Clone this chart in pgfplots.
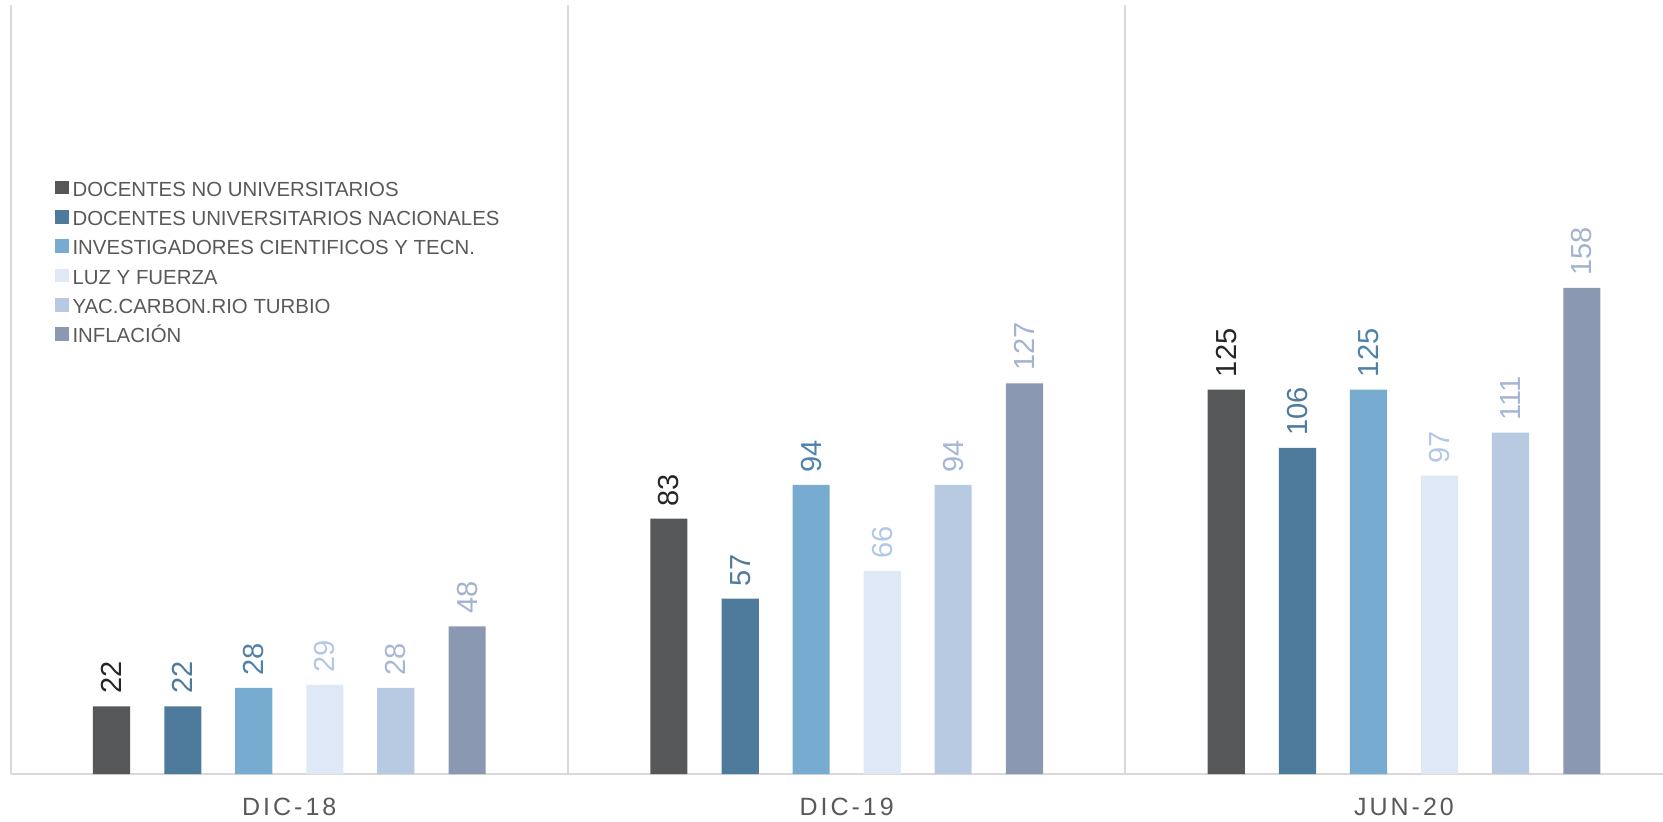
\documentclass[border=0pt]{standalone}
\usepackage{pgfplots}
\pgfplotsset{compat=1.18}
\usepackage{fontspec}
\setmainfont{Liberation Sans}
\newfontfamily\spaced[LetterSpace=12]{Liberation Sans}
\definecolor{c1}{HTML}{555759}
\definecolor{c2}{HTML}{4E7A9B}
\definecolor{c3}{HTML}{77ACD0}
\definecolor{c4}{HTML}{DFE8F7}
\definecolor{c5}{HTML}{B8C9E2}
\definecolor{c6}{HTML}{8A98B2}
\definecolor{l1}{HTML}{262626}
\definecolor{l2}{HTML}{4E7A9B}
\definecolor{l3}{HTML}{4F82A8}
\definecolor{l4}{HTML}{B4C7E7}
\definecolor{l5}{HTML}{A6B6D6}
\definecolor{l6}{HTML}{A3B2CF}
\definecolor{txt}{HTML}{595959}
\definecolor{gridc}{HTML}{D9D9D9}
\begin{document}
\begin{tikzpicture}
\begin{axis}[
  scale only axis, width=826pt, height=384.5pt,
  xmin=-0.5, xmax=2.464, ymin=0, ymax=250,
  clip=false,
  axis y line=none, axis x line*=bottom,
  x axis line style={-, draw=gridc, line width=0.9pt},
  xtick={0,1,2}, xticklabels={DIC-18,DIC-19,JUN-20},
  major tick length=0pt, minor tick length=0pt,
  minor xtick={-0.5,0.5,1.5}, xminorgrids,
  minor grid style={draw=gridc, line width=0.9pt},
  x tick label style={font=\spaced\fontsize{12.5}{14}\selectfont, text=txt, yshift=-8.7pt},
  /pgf/number format/assume math mode=true,
  ybar, bar width=0.0666,
  nodes near coords,
  nodes near coords align=horizontal,
  nodes near coords style={rotate=90, anchor=west, inner xsep=6pt, inner ysep=0pt, font=\fontsize{14.5}{16}\selectfont},
  legend image code/.code={\fill[#1] (0pt,-2.1pt) rectangle (6.8pt,4.7pt);},
  legend cell align=left,
  legend style={at={(0.0266,0.7727)}, anchor=north west, draw=none, fill=none, inner sep=0pt,
    font=\fontsize{10.2}{12}\selectfont, text=txt, row sep=4.65pt,
    nodes={inner sep=0pt, text height=8pt, text depth=2pt},
    /tikz/every odd column/.append style={column sep=2pt}},
]
\addplot[fill=c1, draw=none, bar shift=-0.319, every node near coord/.append style={text=l1}]
  coordinates {(0,22) (1,83) (2,125)};
\addplot[fill=c2, draw=none, bar shift=-0.191, every node near coord/.append style={text=l2}]
  coordinates {(0,22) (1,57) (2,106)};
\addplot[fill=c3, draw=none, bar shift=-0.0638, every node near coord/.append style={text=l3}]
  coordinates {(0,28) (1,94) (2,125)};
\addplot[fill=c4, draw=none, bar shift=0.0638, every node near coord/.append style={text=l4}]
  coordinates {(0,29) (1,66) (2,97)};
\addplot[fill=c5, draw=none, bar shift=0.191, every node near coord/.append style={text=l5}]
  coordinates {(0,28) (1,94) (2,111)};
\addplot[fill=c6, draw=none, bar shift=0.319, every node near coord/.append style={text=l6}]
  coordinates {(0,48) (1,127) (2,158)};
\legend{DOCENTES NO UNIVERSITARIOS, DOCENTES UNIVERSITARIOS NACIONALES, INVESTIGADORES CIENTIFICOS Y TECN., LUZ Y FUERZA, YAC.CARBON.RIO TURBIO, INFLACIÓN}
\coordinate (sw) at (rel axis cs:0,0);
\end{axis}
\pgfresetboundingbox
\path[use as bounding box] (sw) ++(-5.3pt,-23.5pt) rectangle ++(831.5pt,410.5pt);
\end{tikzpicture}
\end{document}
